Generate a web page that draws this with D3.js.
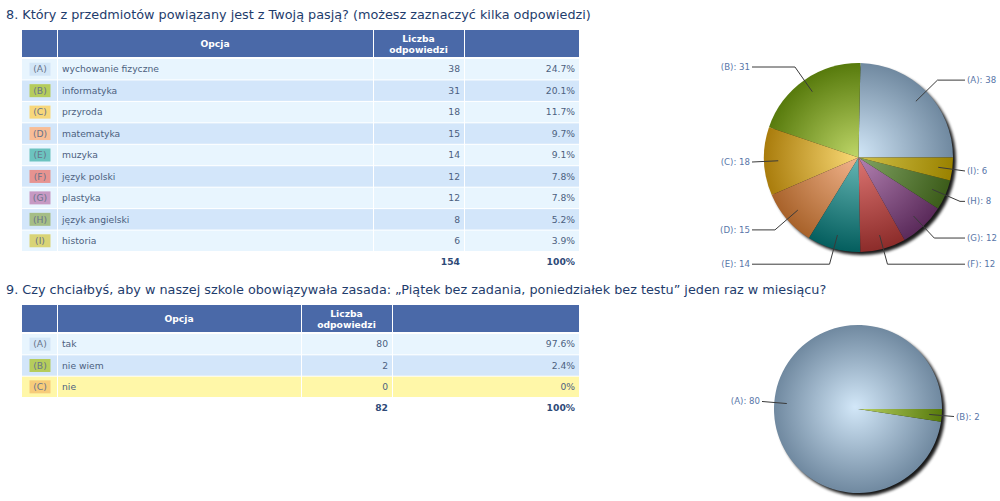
<!DOCTYPE html>
<html>
<head>
<meta charset="utf-8">
<script src="https://cdn.jsdelivr.net/npm/d3@7"></script>
<style>
  body { margin: 0; background: #fff; }
  svg { display: block; font-family: "DejaVu Sans", Verdana, sans-serif; }
</style>
</head>
<body>
<div id="chart"></div>
<script>
// question 8
const q1Title = "8. Który z przedmiotów powiązany jest z Twoją pasją? (możesz zaznaczyć kilka odpowiedzi)";
const q1Letters = ["A", "B", "C", "D", "E", "F", "G", "H", "I"];
const q1Options = ["wychowanie fizyczne", "informatyka", "przyroda", "matematyka", "muzyka",
  "język polski", "plastyka", "język angielski", "historia"];
const q1Counts = [38, 31, 18, 15, 14, 12, 12, 8, 6];
const q1Pct = ["24.7%", "20.1%", "11.7%", "9.7%", "9.1%", "7.8%", "7.8%", "5.2%", "3.9%"];
const q1Total = ["154", "100%"];

// question 9
const q2Title = "9. Czy chciałbyś, aby w naszej szkole obowiązywała zasada: „Piątek bez zadania, poniedziałek bez testu” jeden raz w miesiącu?";
const q2Letters = ["A", "B", "C"];
const q2Options = ["tak", "nie wiem", "nie"];
const q2Counts = [80, 2, 0];
const q2Pct = ["97.6%", "2.4%", "0%"];
const q2Total = ["82", "100%"];

const headers = ["", "Opcja", "Liczba|odpowiedzi", ""];

// styling
const badgeColor = {A: "#d3e6f7", B: "#b5cc5c", C: "#f7d77a", D: "#f8bd96", E: "#6cc3bf",
  F: "#e69390", G: "#c699c3", H: "#a5bd86", I: "#d9d476"};
const sliceColor = {
  A: ["#d2e7f8", "#7089a0"], B: ["#bcd466", "#577a0c"], C: ["#f8d874", "#a97c0c"],
  D: ["#f2b48c", "#a8622a"], E: ["#66b7b5", "#045e5e"], F: ["#df7774", "#8c2c2a"],
  G: ["#b584b4", "#5a2a5a"], H: ["#84a666", "#3c5c1a"], I: ["#d2c24a", "#9a8200"]
};
const textColor = "#4c5f80";
const titleColor = "#1e3c6c";
const labelColor = "#5876a8";

const W = 1000, H = 501;
const svg = d3.select("#chart").append("svg")
  .attr("width", W).attr("height", H);
const defs = svg.append("defs");

defs.append("filter").attr("id", "shadow")
  .attr("x", "-20%").attr("y", "-20%").attr("width", "140%").attr("height", "140%")
  .append("feGaussianBlur").attr("stdDeviation", 1.8);

function drawTable(cfg) {
  const g = svg.append("g");
  const cols = cfg.cols; // column edges
  const rows = d3.scaleBand()
    .domain(cfg.letters)
    .range([cfg.bodyTop, cfg.bodyBottom]);

  g.append("text")
    .attr("x", 6).attr("y", cfg.titleY)
    .attr("fill", titleColor)
    .style("font-size", "12.8px")
    .text(cfg.title);

  // header
  for (let c = 0; c < 4; c++) {
    g.append("rect")
      .attr("x", cols[c] + (c ? 1 : 0)).attr("y", cfg.headTop)
      .attr("width", cols[c + 1] - cols[c] - (c ? 1 : 0))
      .attr("height", cfg.bodyTop - cfg.headTop - 1)
      .attr("fill", "#4a69a8");
    const lines = headers[c].split("|").filter(s => s);
    lines.forEach((s, k) => {
      g.append("text")
        .attr("x", (cols[c] + cols[c + 1]) / 2)
        .attr("y", (cfg.headTop + cfg.bodyTop) / 2 + (k - (lines.length - 1) / 2) * 11)
        .attr("dy", "0.35em")
        .attr("text-anchor", "middle")
        .attr("fill", "#fff")
        .style("font-size", "9.2px").style("font-weight", "bold")
        .text(s);
    });
  }

  // body
  cfg.letters.forEach((l, i) => {
    const y = rows(l);
    const h = rows.bandwidth();
    const fill = cfg.rowFill ? cfg.rowFill(i) : (i % 2 ? "#d3e6fa" : "#e8f5fe");
    for (let c = 0; c < 4; c++) {
      g.append("rect")
        .attr("x", cols[c] + (c ? 1 : 0)).attr("y", y + 1)
        .attr("width", cols[c + 1] - cols[c] - (c ? 1 : 0))
        .attr("height", h - 1)
        .attr("fill", fill);
    }
    const bc = (cols[0] + cols[1]) / 2 + 0.5;
    g.append("rect")
      .attr("x", bc - 10.5).attr("y", y + 1 + (h - 1) / 2 - 6.5)
      .attr("width", 21).attr("height", 13)
      .attr("fill", cfg.badge ? cfg.badge(l) : badgeColor[l]);
    const mid = y + 1 + (h - 1) / 2;
    g.append("text")
      .attr("x", bc).attr("y", mid).attr("dy", "0.35em")
      .attr("text-anchor", "middle").attr("fill", "#68738a")
      .style("font-size", "9.2px").text(`(${l})`);
    g.append("text")
      .attr("x", cols[1] + 5).attr("y", mid).attr("dy", "0.35em")
      .attr("fill", textColor).style("font-size", "9.2px")
      .text(cfg.options[i]);
    g.append("text")
      .attr("x", cols[3] - 4).attr("y", mid).attr("dy", "0.35em")
      .attr("text-anchor", "end").attr("fill", textColor).style("font-size", "9.2px")
      .text(cfg.counts[i]);
    g.append("text")
      .attr("x", cols[4] - 4).attr("y", mid).attr("dy", "0.35em")
      .attr("text-anchor", "end").attr("fill", textColor).style("font-size", "9.2px")
      .text(cfg.pct[i]);
  });

  // totals
  [cols[3] - 4, cols[4] - 4].forEach((x, k) => {
    g.append("text")
      .attr("x", x).attr("y", cfg.bodyBottom + 11).attr("dy", "0.35em")
      .attr("text-anchor", "end").attr("fill", "#2e4a78")
      .style("font-size", "9.2px").style("font-weight", "bold")
      .text(cfg.total[k]);
  });
}

function drawPie(cfg) {
  const {cx, cy, r} = cfg;
  const g = svg.append("g");

  // gradients live in the slice group's space, whose origin is the pie centre
  cfg.letters.forEach(l => {
    const grad = defs.append("radialGradient")
      .attr("id", `${cfg.id}-${l}`)
      .attr("gradientUnits", "userSpaceOnUse")
      .attr("cx", 0).attr("cy", 0).attr("r", r)
      .attr("fx", -3).attr("fy", -2);
    grad.append("stop").attr("offset", "0%").attr("stop-color", sliceColor[l][0]);
    grad.append("stop").attr("offset", "100%").attr("stop-color", sliceColor[l][1]);
  });

  // shadow
  g.append("circle")
    .attr("cx", cx + 3).attr("cy", cy + 3).attr("r", r)
    .attr("fill", "#000").attr("opacity", 0.9)
    .attr("filter", "url(#shadow)");

  const pie = d3.pie()
    .sort(null)
    .startAngle(Math.PI / 2)
    .endAngle(Math.PI / 2 - 2 * Math.PI);
  const arcs = pie(cfg.counts)
    .map((a, i) => Object.assign(a, {l: cfg.letters[i]}));
  const arc = d3.arc().innerRadius(0).outerRadius(r);

  g.append("g").attr("transform", `translate(${cx},${cy})`)
    .selectAll("path")
    .data(arcs.filter(a => a.value > 0))
    .join("path")
    .attr("d", arc)
    .attr("fill", d => `url(#${cfg.id}-${d.l})`);

  // labels
  arcs.filter(a => a.value > 0).forEach(a => {
    const m = (a.startAngle + a.endAngle) / 2;
    const sx = Math.sin(m), sy = -Math.cos(m);
    const right = sx >= 0;
    const endX = cx + (right ? 1 : -1) * (r + 12);
    const p0 = [cx + sx * r * 0.85, cy + sy * r * 0.85];
    let p1 = [cx + sx * r * 1.17, cy + sy * r * 1.17];
    if (right ? p1[0] > endX : p1[0] < endX) p1 = [endX, p1[1]];
    g.append("polyline")
      .attr("points", [p0, p1, [endX, p1[1]]].map(p => p.join(",")).join(" "))
      .attr("fill", "none").attr("stroke", "#3a3a3a").attr("stroke-width", 1);
    g.append("text")
      .attr("x", endX + (right ? 2 : -2)).attr("y", p1[1]).attr("dy", "0.35em")
      .attr("text-anchor", right ? "start" : "end")
      .attr("fill", labelColor).style("font-size", "8.6px")
      .text(`(${a.l}): ${a.value}`);
  });
}

drawTable({
  title: q1Title, titleY: 19, letters: q1Letters, options: q1Options,
  counts: q1Counts, pct: q1Pct, total: q1Total,
  cols: [22, 57, 373, 464, 579], headTop: 30, bodyTop: 58, bodyBottom: 251
});
drawPie({id: "p1", cx: 858.5, cy: 157.5, r: 94.5, letters: q1Letters, counts: q1Counts});

drawTable({
  title: q2Title, titleY: 294, letters: q2Letters, options: q2Options,
  counts: q2Counts, pct: q2Pct, total: q2Total,
  cols: [22, 57, 301, 392, 579], headTop: 305, bodyTop: 333, bodyBottom: 397,
  rowFill: i => i === 2 ? "#fff7a8" : (i % 2 ? "#d3e6fa" : "#e8f5fe"),
  badge: l => l === "C" ? "#f7cc7a" : badgeColor[l]
});
drawPie({id: "p2", cx: 858, cy: 409, r: 84, letters: q2Letters, counts: q2Counts});
</script>
</body>
</html>
